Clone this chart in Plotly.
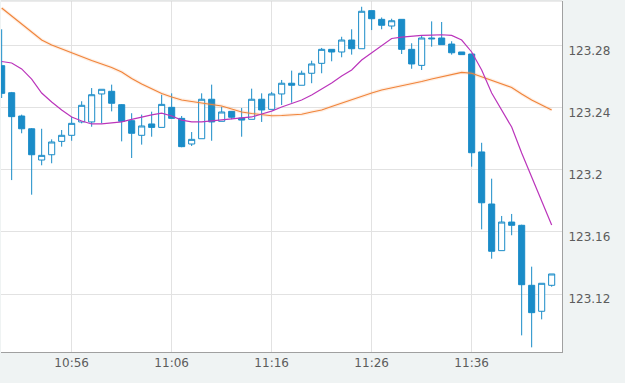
import plotly.graph_objects as go

times = ["2024-01-01 10:%02d:00" % m for m in range(49, 60)] + \
        ["2024-01-01 11:%02d:00" % m for m in range(0, 45)]

opens = [123.2669, 123.2495, 123.2345, 123.2263, 123.2062, 123.2096, 123.2182, 123.2221,
         123.2307, 123.2307, 123.2487, 123.2504, 123.2418, 123.2315, 123.2221, 123.2294,
         123.2272, 123.2401, 123.2330, 123.2165, 123.2199, 123.2453, 123.2311, 123.2375,
         123.2332, 123.2324, 123.2453, 123.2388, 123.2487, 123.2556, 123.2543, 123.2620,
         123.2684, 123.2774, 123.2757, 123.2834, 123.2778, 123.3023, 123.2967, 123.2924,
         123.2967, 123.2774, 123.2671, 123.2847, 123.2847, 123.2808, 123.2757, 123.2744,
         123.2114, 123.1779, 123.1479, 123.1663, 123.1642, 123.1256, 123.1089, 123.1256]
highs = [123.2903, 123.2500, 123.2354, 123.2268, 123.2263, 123.2195, 123.2255, 123.2341,
         123.2440, 123.2525, 123.2517, 123.2547, 123.2422, 123.2363, 123.2354, 123.2373,
         123.2482, 123.2491, 123.2345, 123.2242, 123.2491, 123.2547, 123.2405, 123.2375,
         123.2397, 123.2521, 123.2491, 123.2500, 123.2577, 123.2637, 123.2637, 123.2701,
         123.2783, 123.2774, 123.2855, 123.2903, 123.3048, 123.3023, 123.2979, 123.2971,
         123.2967, 123.2813, 123.2860, 123.2954, 123.2950, 123.2826, 123.2757, 123.2744,
         123.2173, 123.1942, 123.1702, 123.1715, 123.1646, 123.1376, 123.1269, 123.1329]
lows = [123.2461, 123.1933, 123.2234, 123.1839, 123.2028, 123.2041, 123.2148, 123.2186,
        123.2298, 123.2276, 123.2298, 123.2375, 123.2182, 123.2075, 123.2161, 123.2212,
        123.2272, 123.2328, 123.2144, 123.2152, 123.2199, 123.2186, 123.2311, 123.2324,
        123.2212, 123.2324, 123.2307, 123.2388, 123.2416, 123.2431, 123.2543, 123.2556,
        123.2620, 123.2697, 123.2723, 123.2740, 123.2778, 123.2898, 123.2903, 123.2903,
        123.2744, 123.2649, 123.2641, 123.2791, 123.2804, 123.2740, 123.2740, 123.2019,
        123.1616, 123.1427, 123.1479, 123.1578, 123.0934, 123.0857, 123.1037, 123.1247]
closes = [123.2491, 123.2341, 123.2263, 123.2096, 123.2092, 123.2178, 123.2221, 123.2298,
          123.2414, 123.2482, 123.2517, 123.2427, 123.2311, 123.2234, 123.2281, 123.2272,
          123.2420, 123.2330, 123.2148, 123.2195, 123.2453, 123.2307, 123.2371, 123.2337,
          123.2319, 123.2453, 123.2384, 123.2487, 123.2556, 123.2543, 123.2620, 123.2680,
          123.2774, 123.2757, 123.2834, 123.2778, 123.3019, 123.2971, 123.2929, 123.2958,
          123.2774, 123.2680, 123.2847, 123.2842, 123.2804, 123.2752, 123.2740, 123.2109,
          123.1787, 123.1475, 123.1663, 123.1642, 123.1260, 123.1080, 123.1269, 123.1329]

ma_short = [123.2696, 123.2686, 123.2648, 123.2583, 123.2493, 123.2435, 123.2384, 123.2339,
            123.2313, 123.2294, 123.2294, 123.2300, 123.2307, 123.2323, 123.2339, 123.2352,
            123.2364, 123.2345, 123.2319, 123.2307, 123.2307, 123.2313, 123.2319, 123.2326,
            123.2329, 123.2339, 123.2358, 123.2377, 123.2403, 123.2426, 123.2448, 123.2480,
            123.2516, 123.2557, 123.2602, 123.2641, 123.2705, 123.2750, 123.2795, 123.2844,
            123.2853, 123.2860, 123.2864, 123.2866, 123.2868, 123.2864, 123.2834, 123.2757,
            123.2641, 123.2493, 123.2384, 123.2274, 123.2107, 123.1953, 123.1805, 123.1644]
ma_long = [123.3040, 123.2989, 123.2937, 123.2886, 123.2834, 123.2802, 123.2776, 123.2750,
           123.2725, 123.2702, 123.2680, 123.2657, 123.2628, 123.2586, 123.2551, 123.2519,
           123.2490, 123.2467, 123.2448, 123.2438, 123.2429, 123.2419, 123.2410, 123.2390,
           123.2371, 123.2361, 123.2352, 123.2347, 123.2348, 123.2352, 123.2356, 123.2371,
           123.2384, 123.2406, 123.2429, 123.2448, 123.2471, 123.2493, 123.2512, 123.2525,
           123.2538, 123.2551, 123.2567, 123.2583, 123.2599, 123.2612, 123.2626, 123.2620,
           123.2596, 123.2574, 123.2551, 123.2529, 123.2487, 123.2448, 123.2416, 123.2384]

y_ticks = [123.12, 123.16, 123.2, 123.24, 123.28]
y_tick_labels = ["123.12", "123.16", "123.2", "123.24", "123.28"]

BLUE = "#1a8cc8"

fig = go.Figure()
fig.add_trace(go.Candlestick(
    x=times, open=opens, high=highs, low=lows, close=closes,
    increasing=dict(line=dict(color=BLUE, width=1), fillcolor="#ffffff"),
    decreasing=dict(line=dict(color=BLUE, width=1), fillcolor=BLUE),
    whiskerwidth=0, hoverinfo="skip", showlegend=False,
))
fig.add_trace(go.Scatter(x=times, y=ma_long, mode="lines",
                         line=dict(color="rgba(247,150,80,0.16)", width=3.5),
                         hoverinfo="skip", showlegend=False))
fig.add_trace(go.Scatter(x=times, y=ma_long, mode="lines",
                         line=dict(color="#f0843a", width=1.1),
                         hoverinfo="skip", showlegend=False))
fig.add_trace(go.Scatter(x=times, y=ma_short, mode="lines",
                         line=dict(color="#bb35bb", width=1.2),
                         hoverinfo="skip", showlegend=False))

fig.update_layout(
    width=625, height=383,
    margin=dict(l=1, r=63, t=1, b=31),
    paper_bgcolor="#eff3f3",
    plot_bgcolor="#ffffff",
    boxgap=0.13,
    font=dict(family="DejaVu Sans", size=12, color="#5c5c5c"),
    xaxis=dict(
        type="date",
        range=["2024-01-01 10:48:56", "2024-01-01 11:45:02"],
        tick0="2024-01-01 10:56:00", dtick=600000, tickformat="%H:%M",
        showgrid=True, gridcolor="#e2e2e2", gridwidth=1,
        showline=True, linecolor="#a0a0a0", linewidth=1, mirror=False,
        ticks="", rangeslider=dict(visible=False), zeroline=False,
        fixedrange=True,
    ),
    yaxis=dict(
        side="right",
        range=[123.0827, 123.3085],
        tickvals=y_ticks, ticktext=y_tick_labels,
        showgrid=True, gridcolor="#e2e2e2", gridwidth=1,
        showline=True, linecolor="#a0a0a0", linewidth=1, mirror=False,
        ticks="", zeroline=False, ticklabelshift=5, ticklabelstandoff=3,
        fixedrange=True,
    ),
    shapes=[dict(type="line", xref="paper", yref="paper", x0=0, x1=1, y0=1, y1=1,
                 line=dict(color="#d8d8d8", width=1), layer="above")],
)

fig.write_html("out.html", config={"displayModeBar": False, "staticPlot": True},
               post_script="document.body.style.margin='0px';")
